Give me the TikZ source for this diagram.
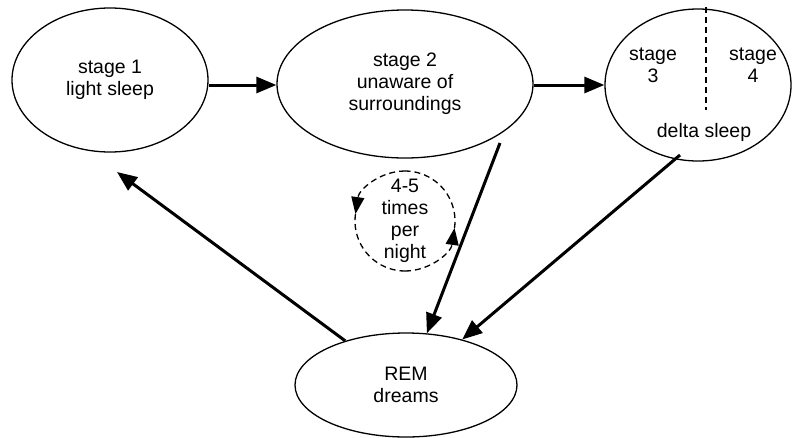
\documentclass[tikz,border=0pt]{standalone}
\usepackage{fontspec}
\setmainfont{Liberation Sans}
\usetikzlibrary{shapes.geometric,arrows.meta}
\begin{document}
\begin{tikzpicture}[x=1pt,y=-1pt,
  stagebox/.style={draw,ellipse,line width=1.3pt,inner sep=0pt,align=center,
    font=\fontsize{19.5}{22}\selectfont},
  lbl/.style={inner sep=0pt,align=center,font=\fontsize{19.5}{22}\selectfont},
  bigarrow/.style={line width=3pt,-{Triangle[length=20pt,width=16pt]}},
  smallarrow/.style={line width=1.3pt,dash pattern=on 6pt off 4pt,-{Triangle[length=17pt,width=13pt]}},
  smallarc/.style={line width=1.3pt,dash pattern=on 6pt off 4pt}]
\useasboundingbox (0,0) rectangle (792,437);
\node[stagebox,minimum width=196pt,minimum height=144pt] (s1) at (110,80) {stage 1\\light sleep};
\node[stagebox,minimum width=256pt,minimum height=148pt] (s2) at (405,84) {stage 2\\unaware of\\surroundings};
\node[stagebox,minimum width=186pt,minimum height=152pt] (s3) at (698,85) {};
\node[stagebox,minimum width=222pt,minimum height=104pt] (rem) at (406,385) {REM\\dreams};
\node[lbl] (t3) at (653,65) {stage\\3};
\node[lbl] (t4) at (753,65) {stage\\4};
\node[lbl] (td) at (704,132) {delta sleep};
\coordinate (dtop) at (706,7);
\coordinate (dbot) at (706,110);
\draw[line width=1.3pt,dash pattern=on 6pt off 4pt] (dtop) -- (dbot);
% loop circle
\node[lbl] (loop) at (405,221) {4-5\\times\\per\\night};
\coordinate (lc) at (405,221);
\draw[smallarrow] (lc) ++(90:-50) arc[start angle=-90,end angle=-172,radius=50];
\draw[smallarc] (lc) ++(-172:50) arc[start angle=-172,end angle=-270,radius=50];
\draw[smallarrow] (lc) ++(90:50) arc[start angle=90,end angle=8,radius=50];
\draw[smallarc] (lc) ++(8:50) arc[start angle=8,end angle=-90,radius=50];
% main arrows
\draw[bigarrow] (s1.east |- 0,85) -- (s2.west |- 0,85);
\draw[bigarrow] (s2.east |- 0,85) -- (s3.west |- 0,85);
\coordinate (a2) at (500,143);
\draw[bigarrow] (a2) -- (rem.68);
\coordinate (a3) at (680,155);
\draw[bigarrow] (a3) -- (rem.39);
\coordinate (e1) at (117,172);
\draw[bigarrow] (rem.144) -- (e1);
\end{tikzpicture}
\end{document}
